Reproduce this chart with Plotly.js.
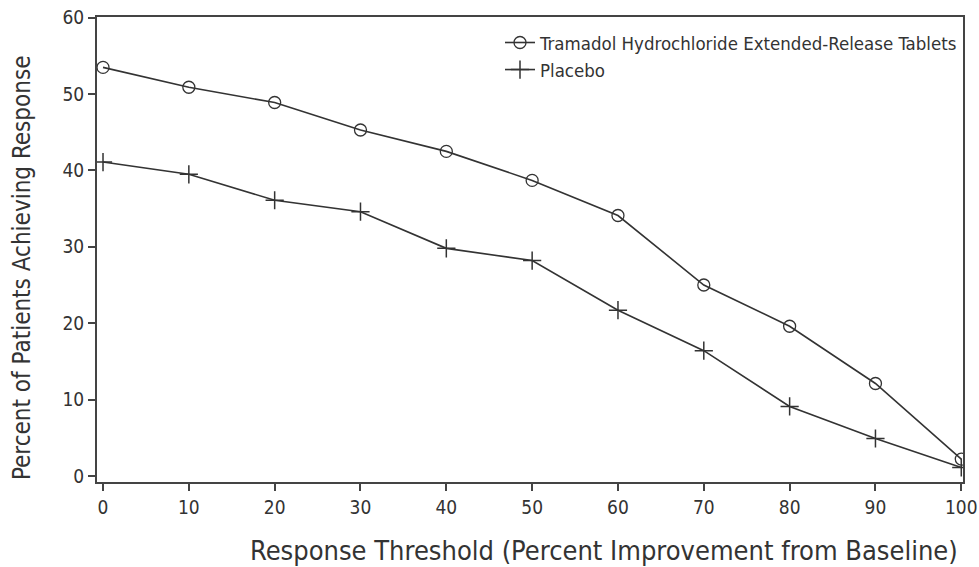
<!DOCTYPE html>
<html><head><meta charset="utf-8">
<script src="https://cdn.plot.ly/plotly-3.0.1.min.js"></script>
<style>html,body{margin:0;padding:0;background:#fff}</style>
</head><body>
<div id="chart" style="width:979px;height:567px"></div>
<script>
var thresholds = [0,10,20,30,40,50,60,70,80,90,100];
var tramadol = [53.5,50.9,48.9,45.3,42.5,38.7,34.1,25.0,19.6,12.1,2.2];
var placebo = [41.1,39.5,36.1,34.6,29.8,28.2,21.7,16.4,9.1,4.9,1.1];
var xTicks = [0,10,20,30,40,50,60,70,80,90,100];
var yTicks = [0,10,20,30,40,50,60];
var xTitle = 'Response Threshold (Percent Improvement from Baseline)';
var yTitle = 'Percent of Patients Achieving Response';
var fontFam = '"DejaVu Sans Condensed","Liberation Sans Narrow",Arial,sans-serif';
var traces = [
  {x: thresholds, y: tramadol, name: 'Tramadol Hydrochloride Extended-Release Tablets', mode: 'lines+markers',
   line: {color: '#333', width: 1.6}, marker: {symbol: 'circle-open', size: 12, color: '#333', line: {width: 1.3, color: '#333'}}},
  {x: thresholds, y: placebo, name: 'Placebo', mode: 'lines+markers',
   line: {color: '#333', width: 1.6}, marker: {symbol: 'cross-thin-open', size: 13, color: '#333', line: {width: 1.5, color: '#333'}}}
];
var layout = {
  width: 979, height: 567,
  margin: {l: 97, r: 16, t: 17, b: 85},
  paper_bgcolor: '#fff', plot_bgcolor: '#fff',
  font: {family: fontFam, color: '#333', size: 16},
  showlegend: true,
  legend: {x: 1.0, y: 0.985, xanchor: 'right', yanchor: 'top', bgcolor: 'rgba(0,0,0,0)',
    font: {size: 18.5, color: '#333', family: fontFam}, tracegroupgap: 0},
  xaxis: {range: [-0.7, 100.2], tickvals: xTicks, ticktext: xTicks.map(String), showgrid: false, zeroline: false,
    showline: true, linecolor: '#444', linewidth: 2, mirror: true, ticks: 'outside', ticklen: 7, tickwidth: 2, tickcolor: '#444',
    tickfont: {size: 19, color: '#333'}},
  yaxis: {range: [-0.8, 60.1], tickvals: yTicks, ticktext: yTicks.map(String), showgrid: false, zeroline: false,
    showline: true, linecolor: '#444', linewidth: 2, mirror: true, ticks: 'outside', ticklen: 7, tickwidth: 2, tickcolor: '#444',
    tickfont: {size: 19, color: '#333'}},
  annotations: [
    {text: xTitle, xref: 'paper', yref: 'paper', x: 0.585, y: -0.148, xanchor: 'center', yanchor: 'middle',
     showarrow: false, font: {size: 27, color: '#333', family: fontFam}},
    {text: yTitle, xref: 'paper', yref: 'paper', x: -0.0866, y: 0.46, xanchor: 'center', yanchor: 'middle',
     textangle: -90, showarrow: false, font: {size: 24, color: '#333', family: fontFam}}
  ]
};
Plotly.newPlot('chart', traces, layout, {displayModeBar: false, staticPlot: true});
</script>
</body></html>
